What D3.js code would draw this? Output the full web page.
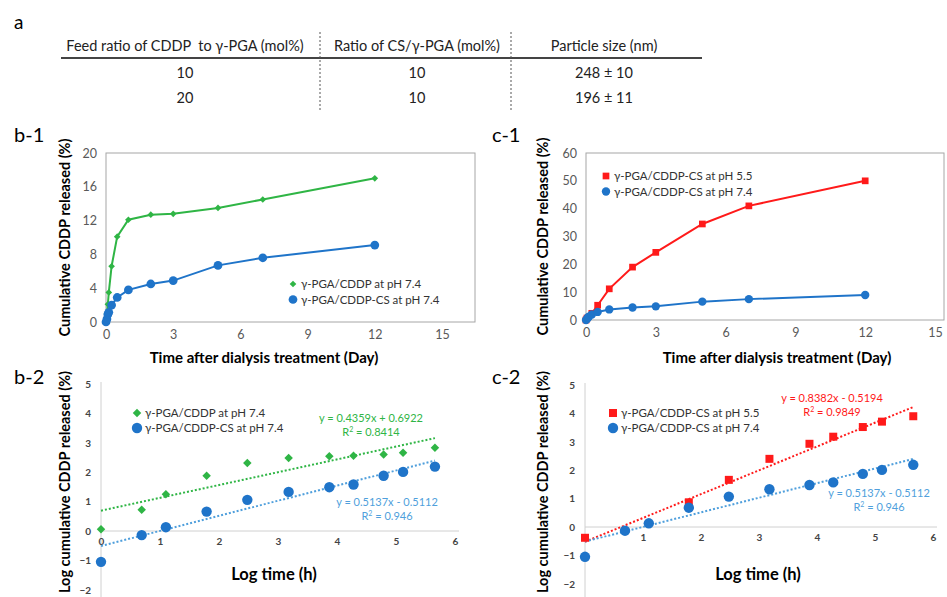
<!DOCTYPE html>
<html lang="en">
<head>
<meta charset="UTF-8">
<title>CDDP release</title>
<style>
  body{ margin:0; background:#fff; }
  svg{ display:block; }
  text{ font-family: Lato, "Open Sans", sans-serif; white-space: pre; }
</style>
</head>
<body>
<svg width="947" height="597"></svg>
<script src="https://cdnjs.cloudflare.com/ajax/libs/d3/7.8.5/d3.min.js"></script>
<script>
// ---- data ----
var tableHead = ["Feed ratio of CDDP  to \u03b3-PGA (mol%)", "Ratio of CS/\u03b3-PGA (mol%)", "Particle size (nm)"];
var tableRows = [["10", "10", "248 \u00b1 10"], ["20", "10", "196 \u00b1 11"]];

var dayTicks = [0, 3, 6, 9, 12, 15];
var days = [0, 0.042, 0.083, 0.125, 0.25, 0.5, 1, 2, 3, 5, 7, 12];
var b1Green = [0, 1.0, 2.1, 3.5, 6.6, 10.1, 12.1, 12.7, 12.8, 13.5, 14.5, 17.0];
var b1Blue = [0, 0.35, 0.9, 1.15, 2.0, 2.9, 3.8, 4.5, 4.9, 6.7, 7.6, 9.1];
var c1RedDays = [0, 0.042, 0.25, 0.5, 1, 2, 3, 5, 7, 12];
var c1Red = [0, 0.7, 2.4, 5.3, 11.2, 19.0, 24.3, 34.5, 41.0, 50.0];
var c1Blue = [0, 0.35, 0.9, 1.15, 2.0, 2.9, 3.8, 4.5, 4.9, 6.6, 7.5, 9.0];

var logTicksX = [0, 1, 2, 3, 4, 5, 6];
var logTicksY = [-2, -1, 0, 1, 2, 3, 4, 5];
var logTime = [0, 0.69, 1.10, 1.79, 2.48, 3.18, 3.87, 4.28, 4.79, 5.12, 5.66];
var b2Green = [0.06, 0.72, 1.25, 1.88, 2.31, 2.48, 2.54, 2.56, 2.60, 2.66, 2.83];
var b2Blue = [-1.05, -0.14, 0.13, 0.66, 1.06, 1.33, 1.49, 1.58, 1.88, 2.01, 2.19];
var c2RedTime = [0, 1.79, 2.48, 3.18, 3.87, 4.28, 4.79, 5.12, 5.66];
var c2Red = [-0.38, 0.87, 1.66, 2.40, 2.93, 3.18, 3.52, 3.71, 3.90];
var c2Blue = [-1.05, -0.13, 0.13, 0.68, 1.07, 1.33, 1.48, 1.57, 1.87, 2.01, 2.19];

// linear fits [slope, intercept]
var fitGreen = [0.4359, 0.6922];
var fitBlue = [0.5137, -0.5112];
var fitRed = [0.8382, -0.5194];

var GREEN = "#2fb545", BLUE = "#1f74c9", RED = "#ff1a1a", FITBLUE = "#4f9fdc";

var svg = d3.select("svg");

// ---- a: table ----
svg.append("text").attr("x", 14).attr("y", 29).attr("font-size", 19).text("a");
var colX = [185, 417, 604];
svg.append("line").attr("x1", 61).attr("x2", 702).attr("y1", 58).attr("y2", 58)
   .attr("stroke", "#444").attr("stroke-width", 2);
[320, 511].forEach(function(x){
  svg.append("line").attr("x1", x).attr("x2", x).attr("y1", 32).attr("y2", 111)
     .attr("stroke", "#555").attr("stroke-width", 1).attr("stroke-dasharray", "2,2");
});
svg.selectAll("text.head").data(tableHead).enter().append("text").attr("class", "head")
   .attr("x", function(d, i){ return colX[i]; }).attr("y", 51)
   .attr("text-anchor", "middle").attr("font-size", 14.5).attr("fill", "#222").text(function(d){ return d; });
tableRows.forEach(function(row, r){
  svg.selectAll("text.r" + r).data(row).enter().append("text").attr("class", "r" + r)
     .attr("x", function(d, i){ return colX[i]; }).attr("y", 78 + r * 25)
     .attr("text-anchor", "middle").attr("font-size", 14.5).attr("fill", "#222").text(function(d){ return d; });
});

// ---- helpers ----
function marker(g, data, x, y, type, size, color, rot){
  g.selectAll(null).data(data).enter().append("path")
   .attr("d", d3.symbol().type(type).size(size))
   .attr("transform", function(d){ return "translate(" + x(d[0]) + "," + y(d[1]) + ")" + (rot ? " rotate(45)" : ""); })
   .attr("fill", color);
}
function zip(a, b){ return a.map(function(v, i){ return [v, b[i]]; }); }

function legend(g, items, x, y, gap){
  items.forEach(function(it, i){
    var yy = y + i * gap;
    g.append("path").attr("d", d3.symbol().type(it.type).size(it.size))
     .attr("transform", "translate(" + x + "," + yy + ")" + (it.rot ? " rotate(45)" : ""))
     .attr("fill", it.color);
    g.append("text").attr("x", x + 8).attr("y", yy + 4).attr("font-size", 11.5).attr("fill", "#333").text(it.label);
  });
}

// ---- release panels (b-1, c-1) ----
function releasePanel(o){
  var x = d3.scaleLinear().domain([0, 15]).range([o.left, o.x15]);
  var y = d3.scaleLinear().domain([0, o.ymax]).range([o.bottom, o.top]);
  var g = svg.append("g");
  g.append("rect").attr("x", o.left).attr("y", o.top).attr("width", o.right - o.left).attr("height", o.bottom - o.top)
   .attr("fill", "none").attr("stroke", "#a6a6a6").attr("stroke-width", 1);
  var ax = g.append("g").attr("transform", "translate(0," + o.bottom + ")")
    .call(d3.axisBottom(x).tickValues(dayTicks).tickSize(0).tickPadding(8));
  var ay = g.append("g").attr("transform", "translate(" + o.left + ",0)")
    .call(d3.axisLeft(y).tickValues(o.yticks).tickSize(0).tickPadding(9));
  [ax, ay].forEach(function(a){
    a.select(".domain").remove();
    a.selectAll("text").attr("font-family", "Liberation Sans, Arial").attr("font-size", 12.5).attr("fill", "#595959");
  });
  g.append("text").attr("x", o.xTitle).attr("y", 363).attr("text-anchor", "middle")
   .attr("font-weight", "bold").attr("font-size", 15).text("Time after dialysis treatment (Day)");
  g.append("text").attr("transform", "translate(" + o.yTitle + "," + ((o.top + o.bottom) / 2) + ") rotate(-90)")
   .attr("text-anchor", "middle").attr("font-weight", "bold").attr("font-size", 14.5).text("Cumulative CDDP released (%)");
  g.append("text").attr("x", o.lx).attr("y", 142).attr("font-size", 20).text(o.label);
  var line = d3.line().x(function(d){ return x(d[0]); }).y(function(d){ return y(d[1]); });
  o.series.forEach(function(s){
    g.append("path").attr("d", line(s.data)).attr("fill", "none").attr("stroke", s.color).attr("stroke-width", 2);
    marker(g, s.data, x, y, s.type, s.size, s.color, s.rot);
  });
  legend(g, o.series, o.legX, o.legY, 15.5);
}

releasePanel({
  left: 106, right: 475, top: 153, bottom: 322, x15: 442, ymax: 20, yticks: [0, 4, 8, 12, 16, 20],
  xTitle: 264, yTitle: 70, lx: 14, label: "b-1", legX: 293, legY: 284,
  series: [
    {data: zip(days, b1Green), color: GREEN, type: d3.symbolSquare, size: 22, rot: true, label: "\u03b3-PGA/CDDP at pH 7.4"},
    {data: zip(days, b1Blue), color: BLUE, type: d3.symbolCircle, size: 60, label: "\u03b3-PGA/CDDP-CS at pH 7.4"}
  ]
});
releasePanel({
  left: 586, right: 944, top: 153, bottom: 320, x15: 935, ymax: 60, yticks: [0, 10, 20, 30, 40, 50, 60],
  xTitle: 777, yTitle: 548, lx: 492, label: "c-1", legX: 606, legY: 176,
  series: [
    {data: zip(c1RedDays, c1Red), color: RED, type: d3.symbolSquare, size: 45, label: "\u03b3-PGA/CDDP-CS at pH 5.5"},
    {data: zip(days, c1Blue), color: BLUE, type: d3.symbolCircle, size: 55, label: "\u03b3-PGA/CDDP-CS at pH 7.4"}
  ]
});

// ---- log panels (b-2, c-2) ----
function logPanel(o){
  var x = d3.scaleLinear().domain([0, 6]).range([o.left, o.x6]);
  var y = d3.scaleLinear().domain([0, 5]).range([o.y0, o.y5]);
  var g = svg.append("g");
  g.append("line").attr("x1", o.left).attr("x2", o.left).attr("y1", y(5) - 2).attr("y2", 597).attr("stroke", "#d0d0d0");
  g.append("line").attr("x1", o.left).attr("x2", x(6) + 4).attr("y1", y(0)).attr("y2", y(0)).attr("stroke", "#d0d0d0");
  var ax = g.append("g").attr("transform", "translate(0," + y(0) + ")")
    .call(d3.axisBottom(x).tickValues(logTicksX).tickFormat(d3.format("d")).tickSize(0).tickPadding(7));
  var ay = g.append("g").attr("transform", "translate(" + o.left + ",0)")
    .call(d3.axisLeft(y).tickValues(logTicksY).tickFormat(d3.format("d")).tickSize(0).tickPadding(10));
  [ax, ay].forEach(function(a){
    a.select(".domain").remove();
    a.selectAll("text").attr("font-family", "Liberation Sans, Arial").attr("font-size", 10).attr("fill", "#444").attr("font-weight", "bold");
  });
  g.append("text").attr("x", o.xTitle).attr("y", 580).attr("text-anchor", "middle")
   .attr("font-weight", "bold").attr("font-size", 16.5).text("Log time (h)");
  g.append("text").attr("transform", "translate(" + o.yTitle + ",482) rotate(-90)")
   .attr("text-anchor", "middle").attr("font-weight", "bold").attr("font-size", 14.5).text("Log cumulative CDDP released (%)");
  g.append("text").attr("x", o.lx).attr("y", 384).attr("font-size", 20).text(o.label);
  o.series.forEach(function(s){
    var fx = [0, s.data[s.data.length - 1][0]];
    g.append("line").attr("x1", x(fx[0])).attr("x2", x(fx[1]))
     .attr("y1", y(s.fit[0] * fx[0] + s.fit[1])).attr("y2", y(s.fit[0] * fx[1] + s.fit[1]))
     .attr("stroke", s.fitColor).attr("stroke-width", 2).attr("stroke-dasharray", "2,2");
  });
  o.series.forEach(function(s){
    marker(g, s.data, x, y, s.type, s.size, s.color, s.rot);
    var eq = "y = " + s.fit[0] + "x " + (s.fit[1] < 0 ? "- " : "+ ") + Math.abs(s.fit[1]);
    g.append("text").attr("x", s.eqX).attr("y", s.eqY).attr("text-anchor", "middle")
     .attr("font-size", 11).attr("fill", s.fitColor).text(eq);
    var r = g.append("text").attr("x", s.eqX).attr("y", s.eqY + 14).attr("text-anchor", "middle")
      .attr("font-size", 11).attr("fill", s.fitColor).text("R");
    r.append("tspan").attr("dy", -4).attr("font-size", 7).text("2");
    r.append("tspan").attr("dy", 4).text(" = " + s.r2);
  });
  legend(g, o.series, o.legX, o.legY, 15);
}

logPanel({
  left: 101, x6: 455, y0: 531, y5: 384, xTitle: 274, yTitle: 70, lx: 14, label: "b-2", legX: 137, legY: 413,
  series: [
    {data: zip(logTime, b2Green), color: GREEN, fitColor: GREEN, fit: fitGreen, r2: "0.8414", eqX: 371, eqY: 422,
     type: d3.symbolSquare, size: 36, rot: true, label: "\u03b3-PGA/CDDP at pH 7.4"},
    {data: zip(logTime, b2Blue), color: BLUE, fitColor: FITBLUE, fit: fitBlue, r2: "0.946", eqX: 387, eqY: 506,
     type: d3.symbolCircle, size: 85, label: "\u03b3-PGA/CDDP-CS at pH 7.4"}
  ]
});
logPanel({
  left: 585, x6: 933, y0: 527, y5: 385, xTitle: 758, yTitle: 548, lx: 492, label: "c-2", legX: 613, legY: 413,
  series: [
    {data: zip(c2RedTime, c2Red), color: RED, fitColor: RED, fit: fitRed, r2: "0.9849", eqX: 832, eqY: 402,
     type: d3.symbolSquare, size: 64, label: "\u03b3-PGA/CDDP-CS at pH 5.5"},
    {data: zip(logTime, c2Blue), color: BLUE, fitColor: FITBLUE, fit: fitBlue, r2: "0.946", eqX: 879, eqY: 497,
     type: d3.symbolCircle, size: 85, label: "\u03b3-PGA/CDDP-CS at pH 7.4"}
  ]
});
</script>
</body>
</html>
